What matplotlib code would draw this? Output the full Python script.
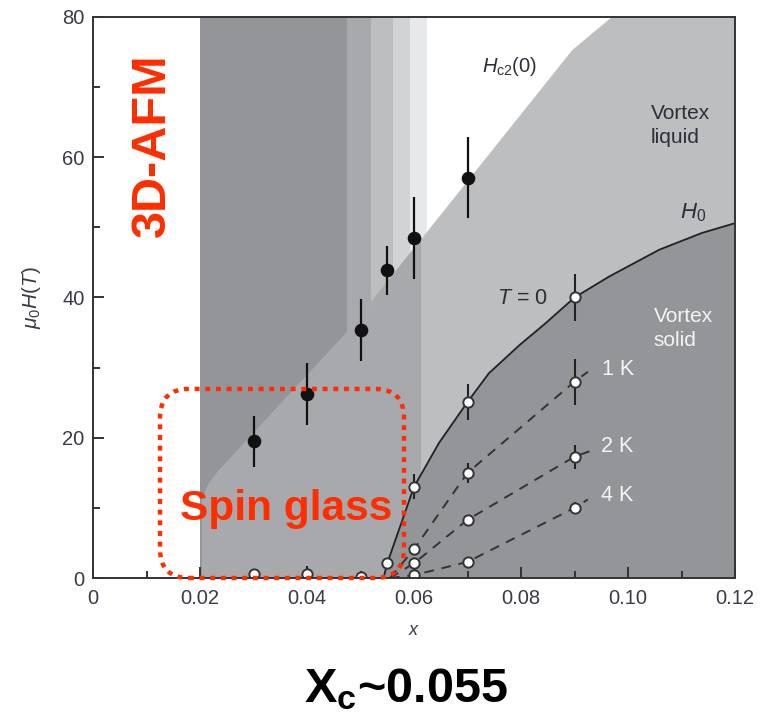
import matplotlib
matplotlib.use("Agg")
import matplotlib.pyplot as plt
from matplotlib.patches import Polygon, Rectangle, FancyBboxPatch

# ---------------- data ----------------
# Hc2(0) measurements (filled circles)
hc2_x = [0.03, 0.04, 0.05, 0.055, 0.06, 0.07]
hc2_h = [19.5, 26.2, 35.4, 43.9, 48.5, 57.1]
hc2_err = [3.6, 4.4, 4.4, 3.5, 5.8, 5.8]

# T = 0 (H0) open circles
t0_x = [0.03, 0.04, 0.05, 0.055, 0.06, 0.07, 0.09]
t0_h = [0.5, 0.5, 0.2, 2.1, 13.0, 25.1, 40.0]
t0_err = [0.0, 1.2, 0.0, 0.0, 1.8, 2.5, 3.4]

# finite temperature melting points
k1_x = [0.06, 0.07, 0.09]
k1_h = [4.1, 15.0, 28.0]
k1_err = [0.0, 1.4, 3.3]
k2_x = [0.06, 0.07, 0.09]
k2_h = [2.1, 8.3, 17.3]
k2_err = [0.0, 0.6, 1.7]
k4_x = [0.06, 0.07, 0.09]
k4_h = [0.4, 2.3, 10.0]
k4_err = [0.0, 0.5, 0.8]

# dashed guide lines
k1_line_x = [0.0555, 0.06, 0.07, 0.09, 0.0925]
k1_line_h = [0.0, 4.1, 15.0, 28.0, 29.4]
k2_line_x = [0.0555, 0.06, 0.07, 0.09, 0.094]
k2_line_h = [0.0, 2.1, 8.3, 17.3, 18.4]
k4_line_x = [0.0555, 0.06, 0.07, 0.09, 0.0925]
k4_line_h = [0.0, 0.4, 2.3, 10.0, 11.2]

# H0 boundary (vortex solid)
h0_x = [0.0543, 0.055, 0.06, 0.0647, 0.07, 0.074, 0.0797, 0.0847, 0.09,
        0.0965, 0.1058, 0.1138, 0.12]
h0_h = [0.0, 2.1, 13.0, 19.3, 25.1, 29.2, 33.2, 36.4, 40.0, 43.0, 46.8,
        49.2, 50.6]

# Hc2 boundary (vortex liquid upper edge)
lb_x = [0.0204, 0.0204, 0.0215, 0.0235, 0.0474, 0.0896, 0.097]
lb_h = [0.0, 11.0, 13.3, 15.3, 35.0, 75.3, 80.0]

# spin-glass vertical bands
band_edges = [0.02, 0.0474, 0.052, 0.056, 0.0592, 0.0625]
band_colors = ["#939598", "#a7a9ac", "#bcbec0", "#d1d3d4", "#e7e8e9"]
sg_liquid_edge = 0.0614

xticks = [0, 0.02, 0.04, 0.06, 0.08, 0.10, 0.12]
xticklabels = ["0", "0.02", "0.04", "0.06", "0.08", "0.10", "0.12"]
yticks = [0, 20, 40, 60, 80]

# ---------------- style ----------------
plt.rcParams["font.family"] = ["Liberation Sans", "DejaVu Sans"]
plt.rcParams["mathtext.fontset"] = "custom"
plt.rcParams["mathtext.rm"] = "Liberation Sans"
plt.rcParams["mathtext.it"] = "Liberation Sans:italic"
plt.rcParams["mathtext.bf"] = "Liberation Sans:bold"

DARK = "#939598"
MED = "#a7a9ac"
LIGHT = "#bcbec0"
TXT = "#2e2e38"
RED = "#ff2d00"

fig = plt.figure(figsize=(7.63, 7.13), dpi=100)
ax = fig.add_axes([0.12189, 0.18934, 0.84142, 0.78682])
ax.set_xlim(0, 0.12)
ax.set_ylim(0, 80)

# bands
for i, c in enumerate(band_colors):
    ax.axvspan(band_edges[i], band_edges[i + 1], color=c, lw=0, zorder=0.5)

# vortex liquid region
liq_verts = list(zip(lb_x, lb_h)) + [(0.12, 80), (0.12, 0)]
ax.add_patch(Polygon(liq_verts, closed=True, facecolor=LIGHT, edgecolor="none", zorder=1))
left_liq = Polygon(liq_verts, closed=True, facecolor=MED, edgecolor="none", zorder=1.1)
ax.add_patch(left_liq)
clip_rect = Rectangle((0.0, 0.0), sg_liquid_edge, 80, transform=ax.transData)
left_liq.set_clip_path(clip_rect)

# vortex solid region
sol_verts = list(zip(h0_x, h0_h)) + [(0.12, 0)]
ax.add_patch(Polygon(sol_verts, closed=True, facecolor=DARK, edgecolor="none", zorder=1.2))
ax.plot(h0_x, h0_h, color="#222222", lw=1.3, zorder=2)

# dashed lines
for lx, lh in [(k1_line_x, k1_line_h), (k2_line_x, k2_line_h), (k4_line_x, k4_line_h)]:
    ax.plot(lx, lh, color="#333333", lw=1.4, dashes=(5, 4), zorder=2)

# error bars + markers
ax.errorbar(hc2_x, hc2_h, yerr=hc2_err, fmt="o", color="#111111", ms=8.8,
            elinewidth=1.6, capsize=0, zorder=4)
for xs, hs, es in [(t0_x, t0_h, t0_err), (k1_x, k1_h, k1_err),
                   (k2_x, k2_h, k2_err), (k4_x, k4_h, k4_err)]:
    ax.errorbar(xs, hs, yerr=es, fmt="none", ecolor="#222222", elinewidth=1.5,
                capsize=0, zorder=3)
    ax.plot(xs, hs, "o", ms=7.4, mfc="white", mec="#333333", mew=1.4, zorder=4)

# axes styling
for s in ax.spines.values():
    s.set_color("#333333")
    s.set_linewidth(1.4)
    s.set_zorder(6)
ax.set_xticks(xticks)
ax.set_xticklabels(xticklabels)
ax.set_yticks(yticks)
ax.set_xticks([0.01, 0.03, 0.05, 0.07, 0.09, 0.11], minor=True)
ax.set_yticks([10, 30, 50, 70], minor=True)
ax.tick_params(which="both", direction="in", color="#333333", width=1.4,
               labelsize=14.5, labelcolor="#3a3a48", top=False, right=False)
ax.tick_params(which="major", length=8)
ax.tick_params(which="minor", length=5)
ax.tick_params(axis="x", pad=8)
ax.tick_params(axis="y", pad=6)

ax.set_xlabel(r"$x$", fontsize=13, color="#3a3a48", labelpad=10)
ax.set_ylabel(r"$\mu_0H(T)$", fontsize=15, color="#3a3a48", labelpad=14)

# annotations
ax.text(0.0778, 73.0, r"$H_{\rm c2}(0)$", fontsize=14.5, color=TXT, ha="center", va="center")
ax.text(0.1043, 64.5, "Vortex\nliquid", fontsize=15, color=TXT, ha="left", va="center",
        linespacing=1.3)
ax.text(0.1121, 52.1, r"$H_0$", fontsize=16, color=TXT, ha="center", va="center")
ax.text(0.0802, 39.8, r"$T$ = 0", fontsize=15.5, color=TXT, ha="center", va="center")
ax.text(0.1048, 35.6, "Vortex\nsolid", fontsize=15, color="#f4f4f4", ha="left", va="center",
        linespacing=1.3)
ax.text(0.0981, 29.7, "1 K", fontsize=15.5, color="#f4f4f4", ha="center", va="center")
ax.text(0.0979, 18.8, "2 K", fontsize=15.5, color="#f4f4f4", ha="center", va="center")
ax.text(0.0979, 11.7, "4 K", fontsize=15.5, color="#f4f4f4", ha="center", va="center")

# red overlays
fig.text(152 / 763, 1 - 145 / 713, "3D-AFM", rotation=90, fontsize=35, fontweight="bold",
         family="Liberation Sans", color=RED, ha="center", va="center")
ax.text(0.0362, 8.2, "Spin glass", fontsize=30.5, fontweight="bold",
        family="Liberation Sans", color=RED, ha="center", va="baseline", zorder=7)
box = FancyBboxPatch((0.1044, 0.0), 0.380, 0.337,
                     boxstyle="round,pad=0,rounding_size=0.045",
                     mutation_aspect=642 / 561, transform=ax.transAxes,
                     fill=False, edgecolor=RED, lw=3.2, linestyle=(0, (1.1, 1.3)),
                     clip_on=False, zorder=8)
ax.add_patch(box)

fig.text(406 / 763, 1 - 702 / 713, r"X$_\mathbf{c}$~0.055", fontsize=35, fontweight="bold",
         family="Liberation Sans", color="black", ha="center", va="baseline")

fig.savefig("out.png", dpi=100)
